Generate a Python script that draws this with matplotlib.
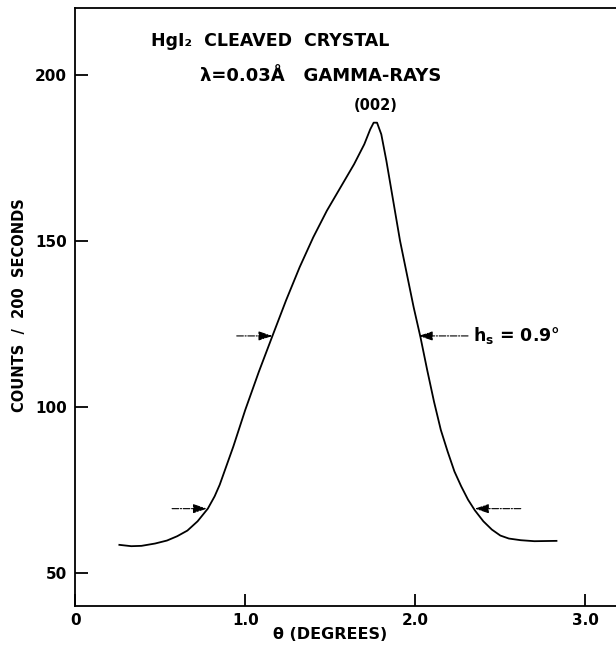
import matplotlib
matplotlib.use("Agg")
import matplotlib.pyplot as plt

# ── data ─────────────────────────────────────────────────────────────────────
theta = [0.26, 0.33, 0.39, 0.47, 0.54, 0.60, 0.66, 0.72, 0.78, 0.82, 0.85,
         0.93, 1.00, 1.08, 1.16, 1.24, 1.32, 1.40, 1.48, 1.56, 1.64, 1.70,
         1.735, 1.755, 1.775, 1.80, 1.83, 1.87, 1.91, 1.95, 1.99, 2.03, 2.07,
         2.11, 2.15, 2.19, 2.23, 2.27, 2.31, 2.35, 2.40, 2.45, 2.50, 2.55,
         2.62, 2.70, 2.83]
counts = [58.4, 58.0, 58.1, 58.8, 59.7, 61.0, 62.7, 65.5, 69.3, 73.0, 76.5,
          88.0, 99.0, 110.5, 121.3, 132.0, 142.0, 151.0, 159.0, 166.0, 173.0, 179.0,
          183.5, 185.5, 185.5, 182.0, 174.0, 162.0, 150.0, 140.0, 130.0, 121.0, 111.0,
          101.5, 93.0, 86.5, 80.5, 76.0, 72.0, 68.8, 65.5, 63.0, 61.2, 60.3,
          59.8, 59.5, 59.6]

xticks = [0, 1.0, 2.0, 3.0]
xtick_labels = ["0", "1.0", "2.0", "3.0"]
yticks = [50, 100, 150, 200]

# half-width markers: (tip theta, tail theta, level)
upper_left = (1.16, 0.95, 121.3)
upper_right = (2.02, 2.31, 121.3)
lower_left = (0.775, 0.57, 69.3)
lower_right = (2.35, 2.62, 69.3)

BOLD = dict(fontweight="bold", family="DejaVu Sans")

fig = plt.figure(figsize=(6.16, 6.52), dpi=100)
ax = fig.add_axes([0.122, 0.0706, 0.878, 0.917])

ax.plot(theta, counts, color="black", lw=1.3)

ax.set_xlim(0, 3.18)
ax.set_ylim(40, 220)
ax.set_xticks(xticks)
ax.set_xticklabels(xtick_labels, **BOLD, fontsize=11)
ax.set_yticks(yticks)
ax.set_yticklabels([str(v) for v in yticks], **BOLD, fontsize=11)
ax.tick_params(direction="in", length=9, width=1.3, pad=5)
ax.tick_params(axis="y", pad=6)

ax.spines["right"].set_visible(False)
for s in ["left", "bottom", "top"]:
    ax.spines[s].set_linewidth(1.3)

fig.text(0.031, 0.532, "COUNTS  /  200  SECONDS", rotation=90,
         ha="center", va="center", fontsize=10.5, **BOLD)
ax.set_xlabel("θ (DEGREES)", **BOLD, fontsize=11.5)
ax.xaxis.set_label_coords(0.471, -0.035)

# titles
ax.text(0.14, 0.945, "HgI₂  CLEAVED  CRYSTAL", transform=ax.transAxes,
        fontsize=12.5, ha="left", va="center", **BOLD)
ax.text(0.23, 0.887, "λ=0.03Å   GAMMA-RAYS", transform=ax.transAxes,
        fontsize=13, ha="left", va="center", **BOLD)
ax.text(1.765, 188.5, "(002)", fontsize=10.5, ha="center", va="bottom", **BOLD)

# half-width arrows
for tip, tail, lvl in [upper_left, upper_right, lower_left, lower_right]:
    ax.annotate("", xy=(tip, lvl), xytext=(tail, lvl),
                arrowprops=dict(arrowstyle="-|>,head_length=0.6,head_width=0.2",
                                color="black", lw=0.8,
                                linestyle=(0, (6, 1.5, 1, 1.5)),
                                mutation_scale=14, shrinkA=0, shrinkB=0))
ax.text(upper_right[1] + 0.03, upper_right[2], r"$\mathbf{h_s}$ = 0.9°",
        fontsize=12.5, ha="left", va="center", **BOLD)

fig.savefig("out.png", dpi=100, facecolor="white")
